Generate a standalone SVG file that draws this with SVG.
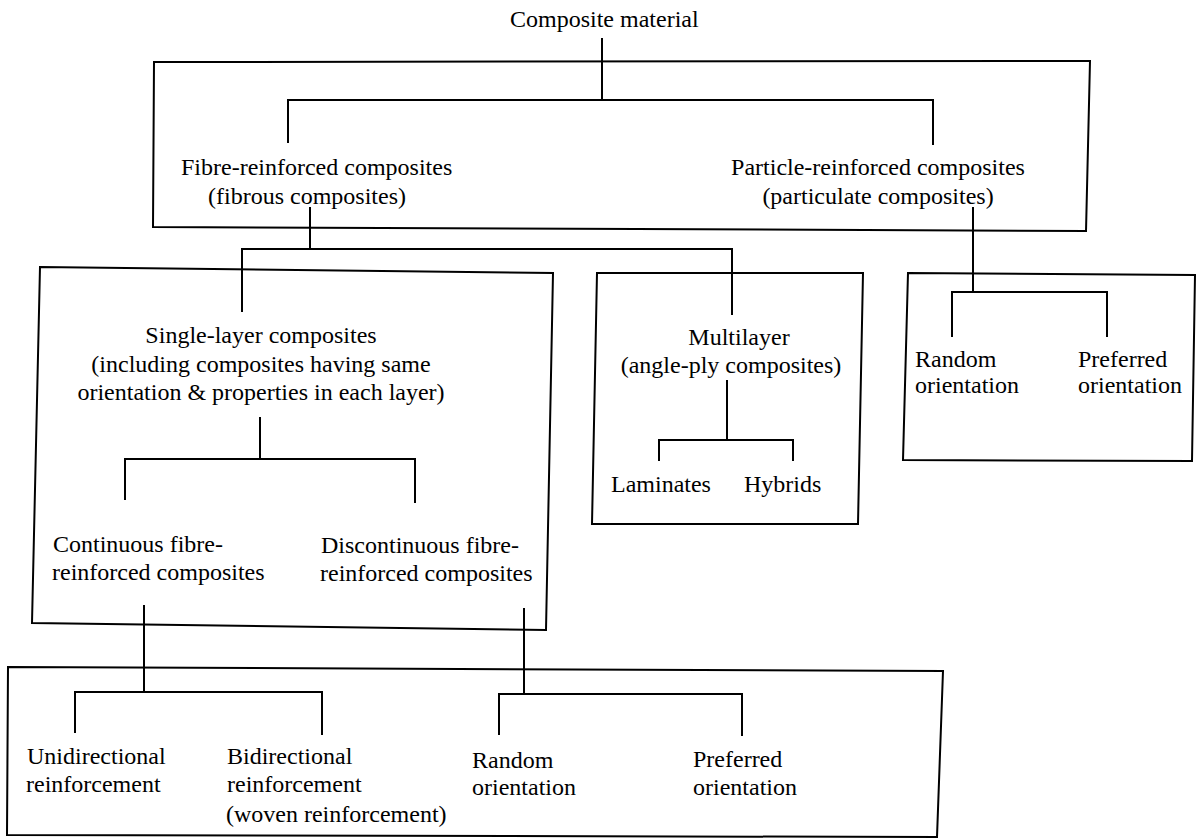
<svg xmlns="http://www.w3.org/2000/svg" width="1202" height="839" viewBox="0 0 1202 839">
<style>
  .bg { fill: #ffffff; }
  .box { fill: none; stroke: #000; stroke-width: 2; stroke-linejoin: miter; }
  .conn { fill: none; stroke: #000; stroke-width: 2; }
  text { font-family: "Liberation Serif", "Times New Roman", serif; font-size: 24px; fill: #000; }
  .c { text-anchor: middle; }
</style>
<rect class="bg" x="0" y="0" width="1202" height="839"/>

<g id="connectors">
  <path class="conn" d="M602,38 V100 M288,143 V100 H933 V145"/>
  <path class="conn" d="M310,207 V249 M242,312 V249 H732 V315"/>
  <path class="conn" d="M973,207 V292 M952,337 V292 H1107 V337"/>
  <path class="conn" d="M260,417 V459 M125,500 V459 H415 V503"/>
  <path class="conn" d="M727,380 V440 M659,461 V440 H793 V461"/>
  <path class="conn" d="M144,605 V692 M75,733 V692 H322 V735"/>
  <path class="conn" d="M524,608 V694 M499,735 V694 H742 V736"/>
</g>

<g id="root">
  <text x="510" y="27">Composite material</text>
</g>

<g id="box-level1">
  <polygon class="box" points="154,62 1090,61 1086,231 153,227"/>
</g>
<g id="fibre">
  <text x="181" y="175">Fibre-reinforced composites</text>
  <text x="208" y="204">(fibrous composites)</text>
</g>
<g id="particle">
  <text class="c" x="878" y="175">Particle-reinforced composites</text>
  <text class="c" x="878" y="204">(particulate composites)</text>
</g>

<g id="single-layer">
  <polygon class="box" points="40,267 553,273 546,630 32,623"/>
  <text class="c" x="261" y="343">Single-layer composites</text>
  <text class="c" x="261" y="372">(including composites having same</text>
  <text class="c" x="261" y="400">orientation &amp; properties in each layer)</text>
</g>
<g id="continuous">
  <text x="53" y="552">Continuous fibre-</text>
  <text x="52" y="580">reinforced composites</text>
</g>
<g id="discontinuous">
  <text x="321" y="553">Discontinuous fibre-</text>
  <text x="320" y="581">reinforced composites</text>
</g>

<g id="multilayer">
  <polygon class="box" points="597,273 863,273 858,524 592,524"/>
  <text class="c" x="739" y="345">Multilayer</text>
  <text class="c" x="731" y="373">(angle-ply composites)</text>
</g>
<g id="laminates">
  <text x="611" y="492">Laminates</text>
</g>
<g id="hybrids">
  <text x="744" y="492">Hybrids</text>
</g>

<g id="particle-orientation">
  <polygon class="box" points="908,273 1195,275 1192,461 903,460"/>
</g>
<g id="particle-random">
  <text x="915" y="367">Random</text>
  <text x="915" y="393">orientation</text>
</g>
<g id="particle-preferred">
  <text x="1078" y="367">Preferred</text>
  <text x="1078" y="393">orientation</text>
</g>

<g id="fibre-arrangement">
  <polygon class="box" points="8,667 943,671 937,837 7,835"/>
</g>
<g id="unidirectional">
  <text x="27" y="764">Unidirectional</text>
  <text x="26" y="792">reinforcement</text>
</g>
<g id="bidirectional">
  <text x="227" y="764">Bidirectional</text>
  <text x="227" y="792">reinforcement</text>
  <text x="226" y="822">(woven reinforcement)</text>
</g>
<g id="fibre-random">
  <text x="472" y="768">Random</text>
  <text x="472" y="795">orientation</text>
</g>
<g id="fibre-preferred">
  <text x="693" y="767">Preferred</text>
  <text x="693" y="795">orientation</text>
</g>
</svg>
